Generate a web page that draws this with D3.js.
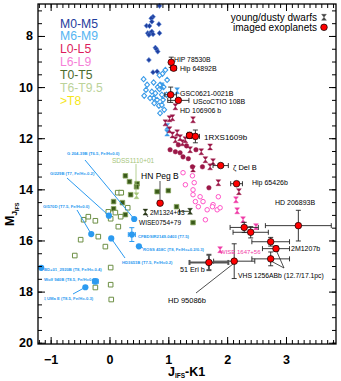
<!DOCTYPE html>
<html>
<head>
<meta charset="utf-8">
<script src="https://cdn.jsdelivr.net/npm/d3@7"></script>
<style>
body { margin: 0; background: #fff; }
svg { font-family: "Liberation Sans", Arial, sans-serif; }
</style>
</head>
<body>
<svg width="341" height="381"></svg>
<script>
// field dwarfs by spectral type, [J-K1, M_J]
const m0m5 = [[0.85,6.82],[0.74,7.25],[0.71,7.31],[0.72,7.44],[0.63,7.60],[0.68,7.61],[0.84,7.54],[0.65,7.89],[0.69,7.89],[0.72,7.83],[0.74,7.93],[0.85,7.89],[0.67,7.96],[0.78,8.46],[0.80,8.52],[0.82,8.61],[0.67,8.94],[0.74,9.42],[0.81,9.39]];
const m6m9 = [[0.58,9.69],[0.62,10.11],[0.72,10.18],[0.82,10.00],[0.85,10.08],[0.92,10.00],[0.75,10.43],[0.81,10.50],[0.76,10.63],[0.84,10.73],[0.89,10.70],[0.93,10.89],[0.86,11.02],[0.91,10.50],[0.97,10.30],[0.95,9.33],[0.90,9.48],[0.85,9.54],[0.98,9.72],[0.75,9.82],[0.64,9.91],[0.86,9.91],[0.89,10.30],[0.78,10.24],[0.59,10.34],[0.69,10.43]];
const l0l5 = [[1.12,12.53],[1.20,12.57],[1.34,12.80],[1.41,13.12],[1.58,13.12],[1.25,12.73],[1.03,12.45],[1.47,12.45],[1.69,13.94],[1.31,12.30],[1.17,12.26]];
const l6l9 = [[1.25,13.35],[1.41,13.47],[1.44,13.74],[1.42,14.02],[1.42,14.21],[1.54,14.29],[1.46,14.48],[1.59,14.48],[1.51,14.68],[1.76,14.60],[1.66,14.80],[1.83,14.80],[1.88,14.72],[1.63,15.19],[1.85,14.29],[1.75,14.68],[1.29,13.82]];
const t0t5 = [[0.27,13.47],[0.34,13.70],[0.47,13.78],[0.46,13.90],[0.19,14.13],[0.81,14.09],[1.00,14.05],[1.14,14.68],[0.07,14.48],[0.22,14.52],[0.27,14.99],[0.07,14.76],[1.42,15.30],[0.36,14.21]];
const t6t9 = [[-0.59,16.59],[-0.49,15.97],[-0.44,15.19],[-0.36,15.07],[-0.24,15.23],[-0.19,15.85],[-0.07,16.24],[0.15,15.46],[0.02,15.15],[0.10,14.91],[-0.02,14.88],[0.19,15.07],[0.14,14.13],[0.20,14.13],[0.02,17.06],[0.02,17.73],[-0.24,17.84],[0.03,18.31],[0.31,14.72]];

// young / dusty dwarfs
const m6m9Young = [[1.15,10.14],[0.89,9.95],[0.98,11.54],[0.98,11.80]];
const l0l5Young = [[1.12,10.77],[1.07,11.20],[1.02,11.24],[1.42,11.28],[0.95,11.40],[1.02,11.67],[1.07,11.87],[1.15,11.79],[1.20,11.98],[1.12,12.06],[1.24,12.18],[1.29,12.06],[1.37,12.45],[1.56,12.53],[1.71,12.34],[1.63,12.84],[1.76,12.92],[1.71,13.12],[1.42,13.20],[1.85,13.74],[2.20,14.09]];
const l6l9Young = [[2.15,14.41],[2.17,14.84],[2.27,15.19],[2.49,15.46],[1.88,16.36]];
const tYoung = [[1.37,14.86],[0.61,14.89]];
const tYoungXErr = [0.09,0];
const t6t9Young = [[0.46,14.25]];

// benchmark T dwarfs
const benchNames = ["G 204-39B (T6.5, Fe/H=0.0)","Gl229B (T7, Fe/H=-0.2)","Gl570D (T7.5, Fe/H=0.0)","CFBDSIR2149-0403 (T7.5)","ROSS 458C (T8, Fe/H=+0.2/0.3)","HD3651B (T7.5, Fe/H=0.2)","BD+01_2920B (T8, Fe/H=-0.4)","Wolf 940B (T8.5, Fe/H=0.0)","ξ UMa E (T8.5, Fe/H=-0.3)"];
const benchX = [0.42,-0.01,-0.31,0.38,0.50,0.03,-1.16,-0.24,-0.41];
const benchY = [15.16,15.03,15.75,15.77,16.23,15.92,17.07,17.60,17.83];
const benchXErr = [0,0,0,0.06,0,0,0,0.05,0];
const benchYErr = [0,0,0,0.27,0,0,0,0.1,0];

// imaged exoplanets
const planetNames = ["HIP 78530B","Hip 64892B","GSC0621-0021B","UScoCTIO 108B","1RXS1609b","1RXS1609b","ζ Del B","Hip 65426b","HD 206893B","","","","2M1207b","VHS 1256ABb","HD 95086b","51 Eri b","HN Peg B"];
const planetX = [1.05,1.09,1.04,1.17,1.36,1.46,1.89,2.16,3.21,2.29,2.40,2.74,2.83,2.74,2.12,1.69,0.86];
const planetY = [9.03,9.26,10.30,10.52,11.89,11.93,13.07,13.78,15.42,15.49,15.68,16.05,16.32,16.72,16.81,16.86,14.54];
const planetXErr = [0.03,0.05,0.10,0.18,0.05,0.07,0.13,0.10,0.56,0.24,0.30,0.32,0.23,0.32,0.35,0.33,0];
const planetYErr = [0.2,0.03,0.3,0.08,0.12,0.25,0.05,0.05,0.6,0.2,0.22,0.17,0.1,0.27,0.68,0.3,0];

const legendNames = ["M0-M5","M6-M9","L0-L5","L6-L9","T0-T5","T6-T9.5",">T8"];
const legendColors = ["#1f3d9e","#55b5f2","#dc1c5c","#f67fd8","#4c6b2e","#bcd39a","#f5e61b"];

const svg = d3.select("svg");
const x = d3.scaleLinear().domain([-1.215, 3.85]).range([38, 336]);
const y = d3.scaleLinear().domain([6.75, 20.05]).range([4, 344]);

const diamond = "M0,-2.6L2.4,0L0,2.6L-2.4,0Z";
const square = "M-2.3,-2.3H2.3V2.3H-2.3Z";
const circle = d3.symbol(d3.symbolCircle, 16)();
const hourglass = "M-2.4,-3H2.4L-2.4,3H2.4Z";

function drawPoints(data, shape, fill, stroke, sw) {
    svg.append("g").selectAll("path")
        .data(data)
        .join("path")
        .attr("transform", d => `translate(${x(d[0])},${y(d[1])})`)
        .attr("d", shape)
        .attr("fill", fill)
        .attr("stroke", stroke)
        .attr("stroke-width", sw);
}

function errorBar(cx, cy, xe, ye, color, w) {
    const g = svg.append("g").attr("stroke", color).attr("stroke-width", w || 0.9);
    if (xe > 0) {
        const x0 = x(cx - xe), x1 = x(cx + xe), py = y(cy);
        g.append("line").attr("x1", x0).attr("x2", x1).attr("y1", py).attr("y2", py);
        g.append("line").attr("x1", x0).attr("x2", x0).attr("y1", py - 2.5).attr("y2", py + 2.5);
        g.append("line").attr("x1", x1).attr("x2", x1).attr("y1", py - 2.5).attr("y2", py + 2.5);
    }
    if (ye > 0) {
        const y0 = y(cy - ye), y1 = y(cy + ye), px = x(cx);
        g.append("line").attr("x1", px).attr("x2", px).attr("y1", y0).attr("y2", y1);
        g.append("line").attr("x1", px - 2.5).attr("x2", px + 2.5).attr("y1", y0).attr("y2", y0);
        g.append("line").attr("x1", px - 2.5).attr("x2", px + 2.5).attr("y1", y1).attr("y2", y1);
    }
}

// field dwarfs
drawPoints(m0m5, diamond, "#1f3f9f", "#5b86d6", 0.6);
drawPoints(m6m9, diamond, "#fff", "#3a9be8", 1.1);
drawPoints(l0l5, circle, "#9b1747", "#9b1747", 0.5);
drawPoints(l6l9, circle, "#fff", "#ff55c8", 1);
drawPoints(t0t5, square, "#3a5a1a", "#8aa860", 0.8);
drawPoints(t6t9, square, "#fff", "#6d8f45", 1);

// young ones
tYoung.forEach((d, i) => errorBar(d[0] - tYoungXErr[i], d[1], tYoungXErr[i], 0, "#2a3a18"));
drawPoints(m6m9Young, hourglass, "#3a9be8", "#3a9be8", 0.4);
drawPoints(l0l5Young, hourglass, "#9b1747", "#9b1747", 0.4);
drawPoints(l6l9Young, hourglass, "#f03aa6", "#f03aa6", 0.4);
drawPoints(tYoung, hourglass, "#2a3a18", "#2a3a18", 0.4);
drawPoints(t6t9Young, hourglass, "#a5c57a", "#a5c57a", 0.4);

// benchmark T dwarfs with pointer lines
const blue = "#2b9af0";
const benchLabelPos = [[67,155],[50,175],[43,208],[138,238],[143,251],[122,263.5],[44,270.5],[44,281],[44,300]];
const benchLineEnd = [[85,160],[67,178],[77,210],null,[143,248],[125,258],null,null,[73,294]];
benchX.forEach((bx, i) => {
    const e = benchLineEnd[i];
    if (e) svg.append("line").attr("x1", x(bx)).attr("y1", y(benchY[i])).attr("x2", e[0]).attr("y2", e[1])
        .attr("stroke", blue).attr("stroke-width", 1);
    errorBar(bx, benchY[i], benchXErr[i], benchYErr[i], blue, 1);
});
svg.append("g").selectAll("circle")
    .data(benchX)
    .join("circle")
    .attr("cx", d => x(d))
    .attr("cy", (d, i) => y(benchY[i]))
    .attr("r", 3.1)
    .attr("fill", blue);
svg.append("g").selectAll("text")
    .data(benchNames)
    .join("text")
    .attr("x", (d, i) => benchLabelPos[i][0])
    .attr("y", (d, i) => benchLabelPos[i][1])
    .attr("font-size", 4.2)
    .attr("font-weight", "bold")
    .attr("fill", blue)
    .text(d => d);

// connector lines for exoplanet labels
const connectors = [[160,181,160,199,"#222"],[136,164,136,193,"#a5c57a"],[284,268,271,261,"#222"],[284,268,277,252,"#222"],[196,293,233,264,"#222"],[146,214,148,217,"#222"]];
connectors.forEach(c => svg.append("line").attr("x1", c[0]).attr("y1", c[1]).attr("x2", c[2]).attr("y2", c[3])
    .attr("stroke", c[4]).attr("stroke-width", 0.8));

// exoplanets
planetX.forEach((px, i) => errorBar(px, planetY[i], planetXErr[i], planetYErr[i],
    planetNames[i] === "51 Eri b" ? "#555" : "#222", planetNames[i] === "51 Eri b" ? 2 : 0.9));
svg.append("g").selectAll("circle")
    .data(planetX)
    .join("circle")
    .attr("cx", d => x(d))
    .attr("cy", (d, i) => y(planetY[i]))
    .attr("r", 3.3)
    .attr("fill", "#ff0000")
    .attr("stroke", "#000")
    .attr("stroke-width", 0.7);

// annotation labels (pixel anchors)
const labels = [
    ["HIP 78530B",174,62,6.8,"#000"],["Hip 64892B",180,71,7,"#000"],["GSC0621-0021B",180,95.5,7,"#000"],
    ["UScoCTIO 108B",193,103.5,7,"#000"],["HD 106906 b",180,113,7,"#000"],["1RXS1609b",204,140,8,"#000"],
    ["ζ Del B",233,170,7.5,"#000"],["Hip 65426b",252,185,7,"#000"],["HD 206893B",275,205,7,"#000"],
    ["2M1207b",291,250.5,7,"#000"],["VHS 1256ABb (12.7/17.1pc)",238,278,6.8,"#000"],["51 Eri b",180,271.5,7.2,"#000"],
    ["HD 95086b",168,303,7.5,"#000"],["HN Peg B",141,178.5,8.5,"#000"],["2M1324+63",150,214.5,6.5,"#000"],
    ["WISE0754+79",139,224.5,6.5,"#000"],["SDSS1110+01",112,162.5,6.5,"#a5c57a"],["WISE 1647+56",220,254,6,"#f03aa6"]
];
svg.append("g").selectAll("text")
    .data(labels)
    .join("text")
    .attr("x", d => d[1])
    .attr("y", d => d[2])
    .attr("font-size", d => d[3])
    .attr("fill", d => d[4])
    .text(d => d[0]);

// spectral type legend
svg.append("g").selectAll("text")
    .data(legendNames)
    .join("text")
    .attr("x", 60)
    .attr("y", (d, i) => 27.5 + i * 12.9)
    .attr("font-size", 12.2)
    .attr("fill", (d, i) => legendColors[i])
    .text(d => d);

// symbol legend
svg.append("text").attr("x", 317).attr("y", 20.5).attr("text-anchor", "end").attr("font-size", 10).text("young/dusty dwarfs");
svg.append("text").attr("x", 317).attr("y", 30.5).attr("text-anchor", "end").attr("font-size", 10).text("imaged exoplanets");
svg.append("path").attr("transform", "translate(324,17.3)").attr("d", hourglass).attr("fill", "#444").attr("stroke", "#444").attr("stroke-width", 0.4);
svg.append("circle").attr("cx", 324).attr("cy", 27.3).attr("r", 3.3).attr("fill", "#ff0000").attr("stroke", "#000").attr("stroke-width", 0.7);

// axes, ticks inward on all four sides
const xMajor = d3.range(-1, 4, 1);
const xMinor = d3.range(-12, 39, 1).map(d => d / 10);
const yMajor = d3.range(8, 21, 2);
const yMinor = d3.range(7, 20.5, 0.5);

svg.append("g").attr("transform", "translate(0,344)").call(d3.axisBottom(x).tickValues(xMinor).tickSize(-4).tickFormat(""));
svg.append("g").attr("transform", "translate(0,344)").call(d3.axisBottom(x).tickValues(xMajor).tickSize(-7).tickPadding(11).tickFormat(d3.format("d")));
svg.append("g").attr("transform", "translate(0,4)").call(d3.axisTop(x).tickValues(xMinor).tickSize(-4).tickFormat(""));
svg.append("g").attr("transform", "translate(0,4)").call(d3.axisTop(x).tickValues(xMajor).tickSize(-7).tickFormat(""));
svg.append("g").attr("transform", "translate(38,0)").call(d3.axisLeft(y).tickValues(yMinor).tickSize(-4).tickFormat(""));
svg.append("g").attr("transform", "translate(38,0)").call(d3.axisLeft(y).tickValues(yMajor).tickSize(-7).tickPadding(5).tickFormat(d3.format("d")));
svg.append("g").attr("transform", "translate(336,0)").call(d3.axisRight(y).tickValues(yMinor).tickSize(-4).tickFormat(""));
svg.append("g").attr("transform", "translate(336,0)").call(d3.axisRight(y).tickValues(yMajor).tickSize(-7).tickFormat(""));
svg.selectAll(".domain").remove();
svg.selectAll(".tick line").attr("stroke", "#000").attr("stroke-width", 1);
svg.selectAll(".tick text").attr("font-size", 12.5).attr("font-weight", "bold").attr("fill", "#000")
    .attr("font-family", "Liberation Sans, Arial, sans-serif");

svg.append("rect").attr("x", 38).attr("y", 4).attr("width", 298).attr("height", 340)
    .attr("fill", "none").attr("stroke", "#000").attr("stroke-width", 1.3);

// axis titles
const xt = svg.append("text").attr("x", 168).attr("y", 376).attr("font-size", 12.5).attr("font-weight", "bold");
xt.append("tspan").text("J");
xt.append("tspan").attr("font-size", 6.5).attr("dy", 2).text("IFS");
xt.append("tspan").attr("dy", -2).text("-K1");

const yt = svg.append("text").attr("transform", "translate(14,226) rotate(-90)").attr("font-size", 12.5).attr("font-weight", "bold");
yt.append("tspan").text("M");
yt.append("tspan").attr("font-size", 8).attr("dy", 3).text("J");
yt.append("tspan").attr("font-size", 5.5).attr("dy", 1.5).text("IFS");
</script>
</body>
</html>
